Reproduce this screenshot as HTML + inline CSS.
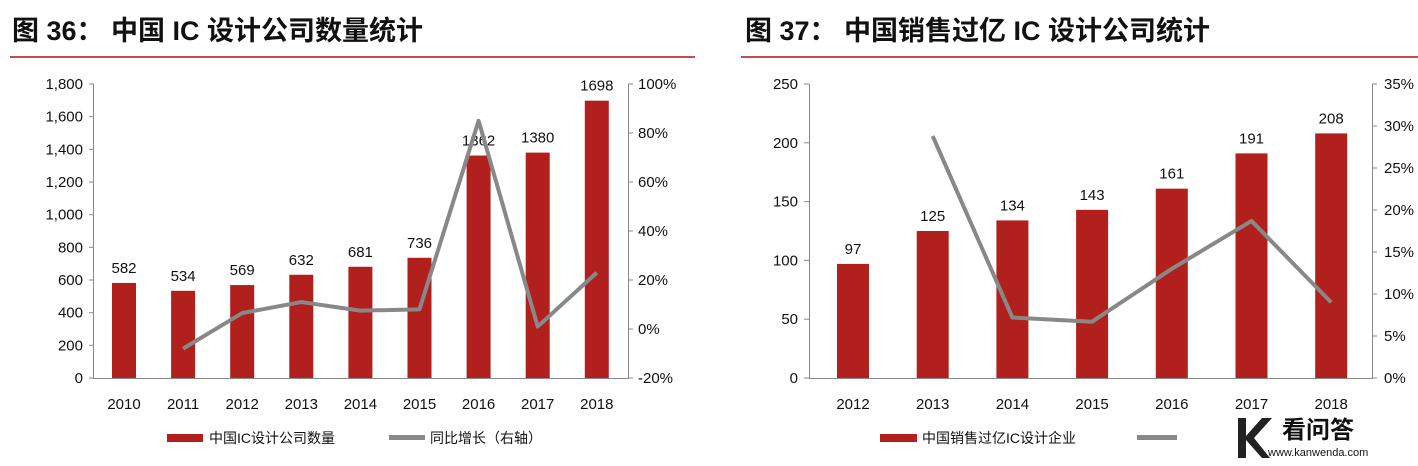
<!DOCTYPE html><html><head><meta charset="utf-8"><style>body{margin:0;background:#fff}svg{display:block}text{font-family:"Liberation Sans","Noto Sans CJK SC",sans-serif}</style></head><body>
<svg width="1418" height="466" viewBox="0 0 1418 466">
<text x="12" y="40" font-size="27" font-weight="bold" fill="#111">图 36：  中国 IC 设计公司数量统计</text>
<rect x="10" y="56" width="685" height="2" fill="#c0504d"/>
<text x="745" y="40" font-size="27" font-weight="bold" fill="#111">图 37：  中国销售过亿 IC 设计公司统计</text>
<rect x="741" y="56" width="677" height="2" fill="#c0504d"/>
<script>
var svg=document.querySelector('svg');var NS='http://www.w3.org/2000/svg';
function el(n,a,txt){var e=document.createElementNS(NS,n);for(var k in a)e.setAttribute(k,a[k]);if(txt!==undefined)e.textContent=txt;svg.appendChild(e);return e;}
function tx(x,y,s,anc,fs){return el('text',{x:x,y:y,'font-size':fs||15,fill:'#111','text-anchor':anc||'middle'},s);}
var y0=378,y1=84;
// LEFT
el('line',{x1:93.5,x2:93.5,y1:y1,y2:y0,stroke:'#888'});el('line',{x1:93,x2:629,y1:y0+.5,y2:y0+.5,stroke:'#888'});el('line',{x1:628.5,x2:628.5,y1:y1,y2:y0,stroke:'#888'});
function ly(v){return y0-(v/1800)*(y0-y1);}
for(var v=0;v<=1800;v+=200){var y=ly(v);tx(83,y+5,v.toLocaleString('en-US'),'end');el('line',{x1:89,x2:94,y1:y,y2:y,stroke:'#888'});}
function ry(p){return y0-((p+20)/120)*(y0-y1);}
for(var p=-20;p<=100;p+=20){var y=ry(p);tx(638,y+5,p+'%','start');el('line',{x1:628,x2:633,y1:y,y2:y,stroke:'#888'});}
var vals=[582,534,569,632,681,736,1362,1380,1698];var yrs=[2010,2011,2012,2013,2014,2015,2016,2017,2018];
function cx(i){return 124+i*59.1;}
vals.forEach(function(v,i){var y=ly(v);el('rect',{x:cx(i)-12,y:y,width:24,height:y0-y,fill:'#b2201d'});tx(cx(i),y-10,v);tx(cx(i),409,yrs[i]);});
var gr=[null,-8,6.5,11,7.5,8,85,1,23];var pts=[];gr.forEach(function(g,i){if(g!==null)pts.push(cx(i)+','+ry(g));});
el('polyline',{points:pts.join(' '),fill:'none',stroke:'#888',"stroke-width":4,'stroke-linejoin':'round'});
el('rect',{x:167,y:434,width:36,height:8,fill:'#b2201d'});tx(209,443,'中国IC设计公司数量','start',14);
el('rect',{x:389,y:435,width:36,height:5,fill:'#888'});tx(430,443,'同比增长（右轴）','start',14);
// RIGHT
var X0=809,X1=1373;function ly2(v){return y0-(v/250)*(y0-y1);}function ry2(p){return y0-(p/35)*(y0-y1);}
el('line',{x1:X0+.5,x2:X0+.5,y1:y1,y2:y0,stroke:'#888'});el('line',{x1:X0,x2:X1,y1:y0+.5,y2:y0+.5,stroke:'#888'});el('line',{x1:X1-.5,x2:X1-.5,y1:y1,y2:y0,stroke:'#888'});
for(var v=0;v<=250;v+=50){var y=ly2(v);tx(798,y+5,v,'end');el('line',{x1:804,x2:809,y1:y,y2:y,stroke:'#888'});}
for(var p=0;p<=35;p+=5){var y=ry2(p);tx(1384,y+5,p+'%','start');el('line',{x1:1372,x2:1377,y1:y,y2:y,stroke:'#888'});}
var v2=[97,125,134,143,161,191,208];function cx2(i){return 853+i*79.7;}
v2.forEach(function(v,i){var y=ly2(v);el('rect',{x:cx2(i)-16,y:y,width:32,height:y0-y,fill:'#b2201d'});tx(cx2(i),y-10,v);tx(cx2(i),409,2012+i);});
var g2=[null,28.8,7.2,6.7,13,18.7,9];pts=[];g2.forEach(function(g,i){if(g!==null)pts.push(cx2(i)+','+ry2(g));});
el('polyline',{points:pts.join(' '),fill:'none',stroke:'#888',"stroke-width":4,'stroke-linejoin':'round'});
el('rect',{x:880,y:434,width:37,height:8,fill:'#b2201d'});tx(922,443,'中国销售过亿IC设计企业','start',14);
el('rect',{x:1137,y:435,width:40,height:5,fill:'#888'});
// watermark
el('rect',{x:1215,y:412,width:203,height:54,fill:'#fff'});
el('path',{d:'M1238 418 L1246 418 L1246 436 L1262 418 L1272 418 L1254 438 L1270 458 L1262 458 L1246 440 L1246 458 L1238 458 Z',fill:'#222'});
var t=tx(1282,438,'看问答','start',24);t.setAttribute('font-weight','bold');
tx(1268,456,'www.kanwenda.com','start',11);
</script>
</svg></body></html>
